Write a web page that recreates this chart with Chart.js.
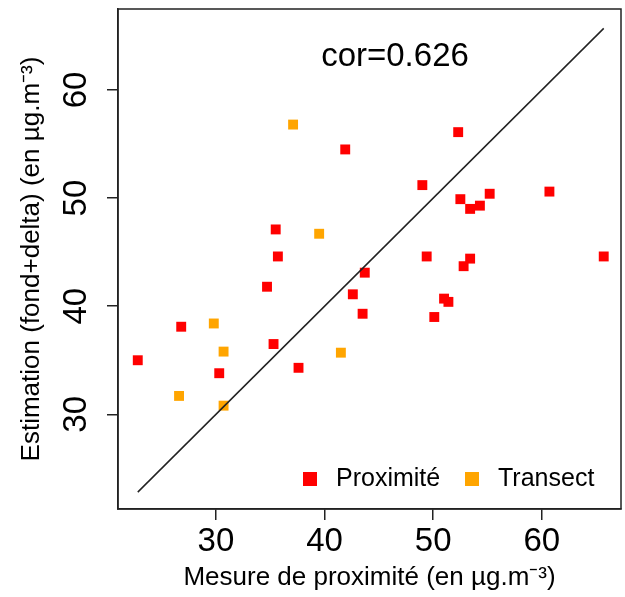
<!DOCTYPE html>
<html>
<head>
<meta charset="utf-8">
<script src="https://cdn.jsdelivr.net/npm/chart.js@4.4.1/dist/chart.umd.min.js"></script>
<style>
  html, body { margin: 0; padding: 0; background: #fff; }
  #wrap { width: 625px; height: 597px; }
</style>
</head>
<body>
<div id="wrap"><canvas id="graphe" width="625" height="597"></canvas></div>
<script>
// Mesures de proximité vs estimation (fond+delta), en µg.m-3
const proxX = [41.9, 35.5, 52.3, 49.0, 52.5, 53.4, 54.3, 55.2, 60.7, 35.7, 34.7, 43.7, 42.6,
               43.5, 26.8, 22.8, 35.3, 37.6, 30.3, 49.4, 53.4, 52.8, 65.7, 51.0, 51.4, 50.1];
const proxY = [54.5, 47.1, 56.1, 51.2, 49.9, 49.0, 49.3, 50.4, 50.6, 44.6, 41.8, 43.1, 41.1,
               39.3, 38.1, 35.0, 36.5, 34.3, 33.8, 44.6, 44.4, 43.7, 44.6, 40.7, 40.4, 39.0];
const transX = [37.1, 39.5, 29.8, 30.7, 41.5, 26.6, 30.7];
const transY = [56.8, 46.7, 38.4, 35.8, 35.7, 31.7, 30.8];

// droite y = x entre min et max des mesures
const diagX = [22.8, 65.7];

const xRange = [20.98, 67.29];
const yRange = [21.24, 67.49];
const tickStep = 10;
const corText = 'cor=0.626';

const FONT = '"Liberation Sans", Arial, Helvetica, sans-serif';

const toPoints = (xs, ys) => xs.map((x, i) => ({ x: x, y: ys[i] }));

// cadre complet + texte de corrélation + légende dans la zone du graphe
const cadrePlugin = {
    id: 'cadre',
    afterDraw(chart) {
        const { ctx, chartArea: a } = chart;
        ctx.save();
        ctx.strokeStyle = '#222';
        ctx.lineWidth = 1.5;
        ctx.strokeRect(a.left, a.top, a.right - a.left, a.bottom - a.top);

        ctx.fillStyle = '#000';
        ctx.font = '33px ' + FONT;
        ctx.textAlign = 'center';
        ctx.textBaseline = 'middle';
        ctx.fillText(corText, 395, 57);

        // légende
        const items = chart.data.datasets.filter(d => d.legend);
        const xs = [310, 472];
        ctx.font = '25px ' + FONT;
        ctx.textAlign = 'left';
        items.forEach((d, i) => {
            ctx.fillStyle = d.backgroundColor;
            ctx.fillRect(xs[i] - 7, 479 - 7, 14, 14);
            ctx.fillStyle = '#000';
            ctx.fillText(d.label, xs[i] + 26, 479);
        });
        ctx.restore();
    }
};

const ctx = document.getElementById('graphe').getContext('2d');

new Chart(ctx, {
    type: 'scatter',
    data: {
        datasets: [
            {
                label: 'y=x',
                type: 'line',
                data: diagX.map(v => ({ x: v, y: v })),
                borderColor: '#222',
                borderWidth: 1.5,
                pointRadius: 0,
                fill: false,
            },
            {
                label: 'Proximité',
                legend: true,
                data: toPoints(proxX, proxY),
                pointStyle: 'rect',
                pointRadius: 7,
                borderWidth: 0,
                backgroundColor: '#ff0000',
                pointBackgroundColor: '#ff0000',
            },
            {
                label: 'Transect',
                legend: true,
                data: toPoints(transX, transY),
                pointStyle: 'rect',
                pointRadius: 7,
                borderWidth: 0,
                backgroundColor: '#ffa500',
                pointBackgroundColor: '#ffa500',
            },
        ],
    },
    options: {
        responsive: false,
        animation: false,
        layout: { autoPadding: false, padding: { top: 9, right: 4, left: 0, bottom: 0 } },
        plugins: {
            legend: { display: false },
            tooltip: { enabled: false },
        },
        scales: {
            x: {
                type: 'linear',
                min: xRange[0],
                max: xRange[1],
                afterFit: (scale) => {
                    scale.height = 88;
                    scale.paddingLeft = 0;
                    scale.paddingRight = 0;
                },
                ticks: {
                    stepSize: tickStep,
                    includeBounds: false,
                    color: '#000',
                    padding: 2,
                    font: { family: FONT, size: 33 },
                },
                grid: {
                    drawOnChartArea: false,
                    drawTicks: true,
                    tickLength: 11,
                    color: '#222',
                    lineWidth: 1.5,
                },
                border: { display: true, color: '#222', width: 1.5 },
                title: {
                    display: true,
                    text: 'Mesure de proximité (en µg.m⁻³)',
                    color: '#000',
                    font: { family: FONT, size: 26 },
                    padding: { top: 0, bottom: 4 },
                },
            },
            y: {
                type: 'linear',
                min: yRange[0],
                max: yRange[1],
                afterFit: (scale) => {
                    scale.width = 118;
                    scale.paddingTop = 0;
                    scale.paddingBottom = 0;
                },
                ticks: {
                    stepSize: tickStep,
                    includeBounds: false,
                    minRotation: 90,
                    maxRotation: 90,
                    crossAlign: 'center',
                    color: '#000',
                    padding: 12,
                    font: { family: FONT, size: 33 },
                },
                grid: {
                    drawOnChartArea: false,
                    drawTicks: true,
                    tickLength: 11,
                    color: '#222',
                    lineWidth: 1.5,
                },
                border: { display: true, color: '#222', width: 1.5 },
                title: {
                    display: true,
                    text: 'Estimation (fond+delta) (en µg.m⁻³)',
                    color: '#000',
                    font: { family: FONT, size: 26 },
                    padding: { top: 16, bottom: 0 },
                },
            },
        },
    },
    plugins: [cadrePlugin],
});
</script>
</body>
</html>
